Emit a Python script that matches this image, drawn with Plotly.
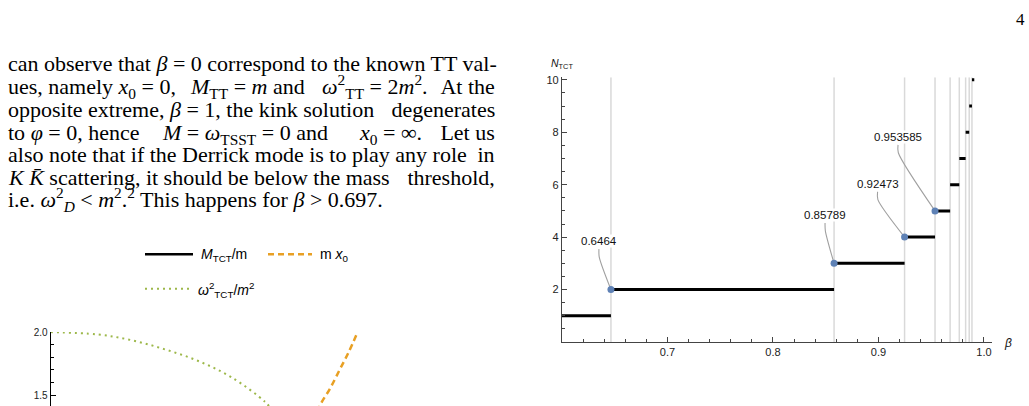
import plotly.graph_objects as go

W, H = 1029, 406

# right panel: number of TCT solutions vs beta
n_tct = [1, 2, 3, 4, 5, 6, 7, 8, 9, 10]
beta_start = [0.6, 0.6464, 0.85789, 0.92473, 0.953585, 0.9679, 0.9766, 0.9826, 0.9860, 0.9886]
beta_end = [0.6464, 0.85789, 0.92473, 0.953585, 0.9679, 0.9766, 0.9826, 0.9860, 0.9886, 0.9908]
marked = [0.6464, 0.85789, 0.92473, 0.953585]
marked_n = [2, 3, 4, 5]
marked_labels = ["0.6464", "0.85789", "0.92473", "0.953585"]

# left panel (only the top part is visible)
beta_w = [0.0, 0.11, 0.19, 0.27, 0.35, 0.43, 0.51, 0.525]
omega2 = [2.0, 1.982, 1.938, 1.865, 1.773, 1.643, 1.448, 1.39]
beta_x = [0.635, 0.6436, 0.665, 0.689, 0.709, 0.730]
mx0 = [1.37, 1.435, 1.552, 1.708, 1.838, 1.995]

# paragraph; "|" splits a line into pieces that are spread out to justify it
text_lines = [
    "can observe that <i>β</i> = 0 correspond to the known TT val-",
    "ues, namely <i>x</i><sub>0</sub> = 0,|<i>M</i><sub>TT</sub> = <i>m</i> and|<i>ω</i><sup>2</sup><sub>TT</sub> = 2<i>m</i><sup>2</sup>.|At the",
    "opposite extreme, <i>β</i> = 1, the kink solution|degenerates",
    "to <i>φ</i> = 0, hence|<i>M</i> = <i>ω</i><sub>TSST</sub> = 0 and|<i>x</i><sub>0</sub> = ∞.|Let us",
    "also note that if the Derrick mode is to play any role|in",
    "<i>K K̄</i> scattering, it should be below the mass|threshold,",
    "i.e. <i>ω</i><sup>2</sup><sub><i>D</i></sub> &lt; <i>m</i><sup>2</sup>.<sup>2</sup> This happens for <i>β</i> &gt; 0.697.",
]
piece_x = [[], [188, 320], [], [160, 357], [], [], []]


def px(x):
    return x / W


def py(y):
    return 1 - y / H


sans = "Liberation Sans, Arial, sans-serif"
serif = "Liberation Serif, Times New Roman, serif"
# transparent sup/sub so every text piece gets the same box height
pad = ("<sup><span style='color:rgba(0,0,0,0)'>2</span></sup>"
       "<sub><span style='color:rgba(0,0,0,0)'>0</span></sub>")

# right panel frame (pixels) and ranges
x2_px = (562, 992)
y2_px = (341, 72.3)
x2_range = [0.6, 1.0076]
y2_range = [0, 10.1]
dx_px = (x2_range[1] - x2_range[0]) / (x2_px[1] - x2_px[0])
dy_px = (y2_range[1] - y2_range[0]) / (y2_px[0] - y2_px[1])

fig = go.Figure()

# light vertical guides at every threshold
vx, vy = [], []
for b in beta_start[1:]:
    vx += [b, b, None]
    vy += [y2_range[0], y2_range[1], None]
fig.add_trace(go.Scatter(x=vx, y=vy, mode="lines", line=dict(color="#d9d9d9", width=1.5),
                         xaxis="x2", yaxis="y2", hoverinfo="skip", showlegend=False))

sx, sy = [], []
for s, e, n in zip(beta_start, beta_end, n_tct):
    sx += [s, e, None]
    sy += [n, n, None]
fig.add_trace(go.Scatter(x=sx, y=sy, mode="lines", line=dict(color="black", width=3),
                         xaxis="x2", yaxis="y2", showlegend=False, name="N_TCT"))

# callouts: label offset from the point in pixels, leader drops then bends to the point
offsets = [(-12, -49), (-9, -49), (-27, -54), (-37, -75)]
annotations = []
for b, n, lab, (ax, ay) in zip(marked, marked_n, marked_labels, offsets):
    lx = b + ax * dx_px
    ly = n - ay * dy_px
    top = ly - 8 * dy_px
    bend = ly - 16 * dy_px
    fig.add_trace(go.Scatter(x=[lx, lx + 0.3 * dx_px, b], y=[top, bend, n], mode="lines",
                             line=dict(color="#a0a0a0", width=1.1, shape="spline", smoothing=0.8),
                             xaxis="x2", yaxis="y2", hoverinfo="skip", showlegend=False))
    annotations.append(dict(x=lx, y=ly, xref="x2", yref="y2", text=lab, showarrow=False,
                            xanchor="center", yanchor="middle", bgcolor="white", borderpad=0,
                            font=dict(family=sans, size=11.5, color="#111")))

fig.add_trace(go.Scatter(x=marked, y=marked_n, mode="markers",
                         marker=dict(color="#5E81B5", size=7),
                         xaxis="x2", yaxis="y2", showlegend=False, cliponaxis=False))

# left panel curves
fig.add_trace(go.Scatter(x=beta_w, y=omega2, mode="lines", line_shape="spline",
                         line=dict(color="#9DB84A", width=2, dash="2px,4px"),
                         xaxis="x", yaxis="y", showlegend=False))
fig.add_trace(go.Scatter(x=beta_x, y=mx0, mode="lines", line_shape="spline",
                         line=dict(color="#E8A024", width=2.5, dash="6px,4px"),
                         xaxis="x", yaxis="y", showlegend=False))

annotations.append(dict(x=px(549), y=py(59), xref="paper", yref="paper", xanchor="left",
                        yanchor="middle", text="<i>N</i><sub>TCT</sub>", showarrow=False,
                        font=dict(family=sans, size=10.5, color="#111")))
annotations.append(dict(x=px(1002), y=py(342), xref="paper", yref="paper", xanchor="left",
                        yanchor="middle", text="<i>β</i>", showarrow=False,
                        font=dict(family=sans, size=12, color="#111")))
annotations.append(dict(x=px(1020), y=py(14), xref="paper", yref="paper",
                        xanchor="center", yanchor="middle", text="4", showarrow=False,
                        font=dict(family=serif, size=17, color="black")))

baselines = [71.7, 95, 118.3, 141.7, 164.3, 187.7, 210]
fs = 22
left_x, right_x = 6, 497
for line, xs, yb in zip(text_lines, piece_x, baselines):
    pieces = line.split("|")
    yc = py(yb - 0.376 * fs - 5)
    for i, piece in enumerate(pieces):
        if i == 0:
            x, anchor, txt = left_x, "left", piece + pad
        elif i == len(pieces) - 1:
            x, anchor, txt = right_x, "right", pad + piece
        else:
            x, anchor, txt = xs[i - 1], "left", piece + pad
        annotations.append(dict(x=px(x), y=yc, xref="paper", yref="paper",
                                xanchor=anchor, yanchor="middle", align="left",
                                text=txt, showarrow=False,
                                font=dict(family=serif, size=fs, color="black")))

# legend of the left panel
legend_items = [
    ("<i>M</i><sub>TCT</sub>/m", 145, 193, 252, "black", "solid", 2.5),
    ("m <i>x</i><sub>0</sub>", 268, 312, 252, "#E8A024", "6px,4px", 2.5),
    ("<i>ω</i><sup>2</sup><sub>TCT</sub>/<i>m</i><sup>2</sup>", 145, 190, 287, "#9DB84A", "2px,4px", 2),
]
shapes = []
for label, x0, x1, yy, col, dash, wd in legend_items:
    shapes.append(dict(type="line", xref="paper", yref="paper", x0=px(x0), x1=px(x1),
                       y0=py(yy), y1=py(yy), line=dict(color=col, width=wd, dash=dash)))
    annotations.append(dict(x=px(x1 + 6), y=py(yy + 1), xref="paper", yref="paper",
                            xanchor="left", yanchor="middle", text=label, showarrow=False,
                            font=dict(family=sans, size=14, color="black")))

fig.update_layout(
    width=W, height=H, margin=dict(l=0, r=0, t=0, b=0),
    paper_bgcolor="white", plot_bgcolor="white",
    showlegend=False, annotations=annotations, shapes=shapes,
    xaxis=dict(domain=[px(50.7), px(470.7)], range=[0, 1], visible=False, anchor="y"),
    yaxis=dict(domain=[0, py(331)], range=[1.414, 2.0], anchor="x",
               tickvals=[1.5, 2.0], tickformat=".1f", ticks="inside", ticklen=5,
               tickcolor="black", showline=True, linecolor="black", linewidth=1.2,
               showgrid=False, zeroline=False,
               minor=dict(dtick=0.1, tick0=1.0, ticks="inside", ticklen=3, tickcolor="black"),
               tickfont=dict(family=sans, size=10, color="#222")),
    xaxis2=dict(domain=[px(x2_px[0]), px(x2_px[1])], range=x2_range, anchor="y2",
                tickvals=[0.7, 0.8, 0.9, 1.0], tickformat=".1f", ticks="inside", ticklen=5,
                tickcolor="#444", showline=True, linecolor="#444", linewidth=1.3,
                showgrid=False, zeroline=False,
                minor=dict(dtick=0.02, tick0=0.6, ticks="inside", ticklen=3, tickcolor="#444"),
                tickfont=dict(family=sans, size=11, color="#222")),
    yaxis2=dict(domain=[py(y2_px[0]), py(y2_px[1])], range=y2_range, anchor="x2",
                tickvals=[2, 4, 6, 8, 10], ticks="inside", ticklen=5,
                tickcolor="#444", showline=True, linecolor="#444", linewidth=1.3,
                showgrid=False, zeroline=False,
                minor=dict(dtick=0.5, tick0=0, ticks="inside", ticklen=3, tickcolor="#444"),
                tickfont=dict(family=sans, size=11, color="#222")),
)

fig.write_html("out.html", config={"displayModeBar": False},
               post_script="document.body.style.margin='0';")
